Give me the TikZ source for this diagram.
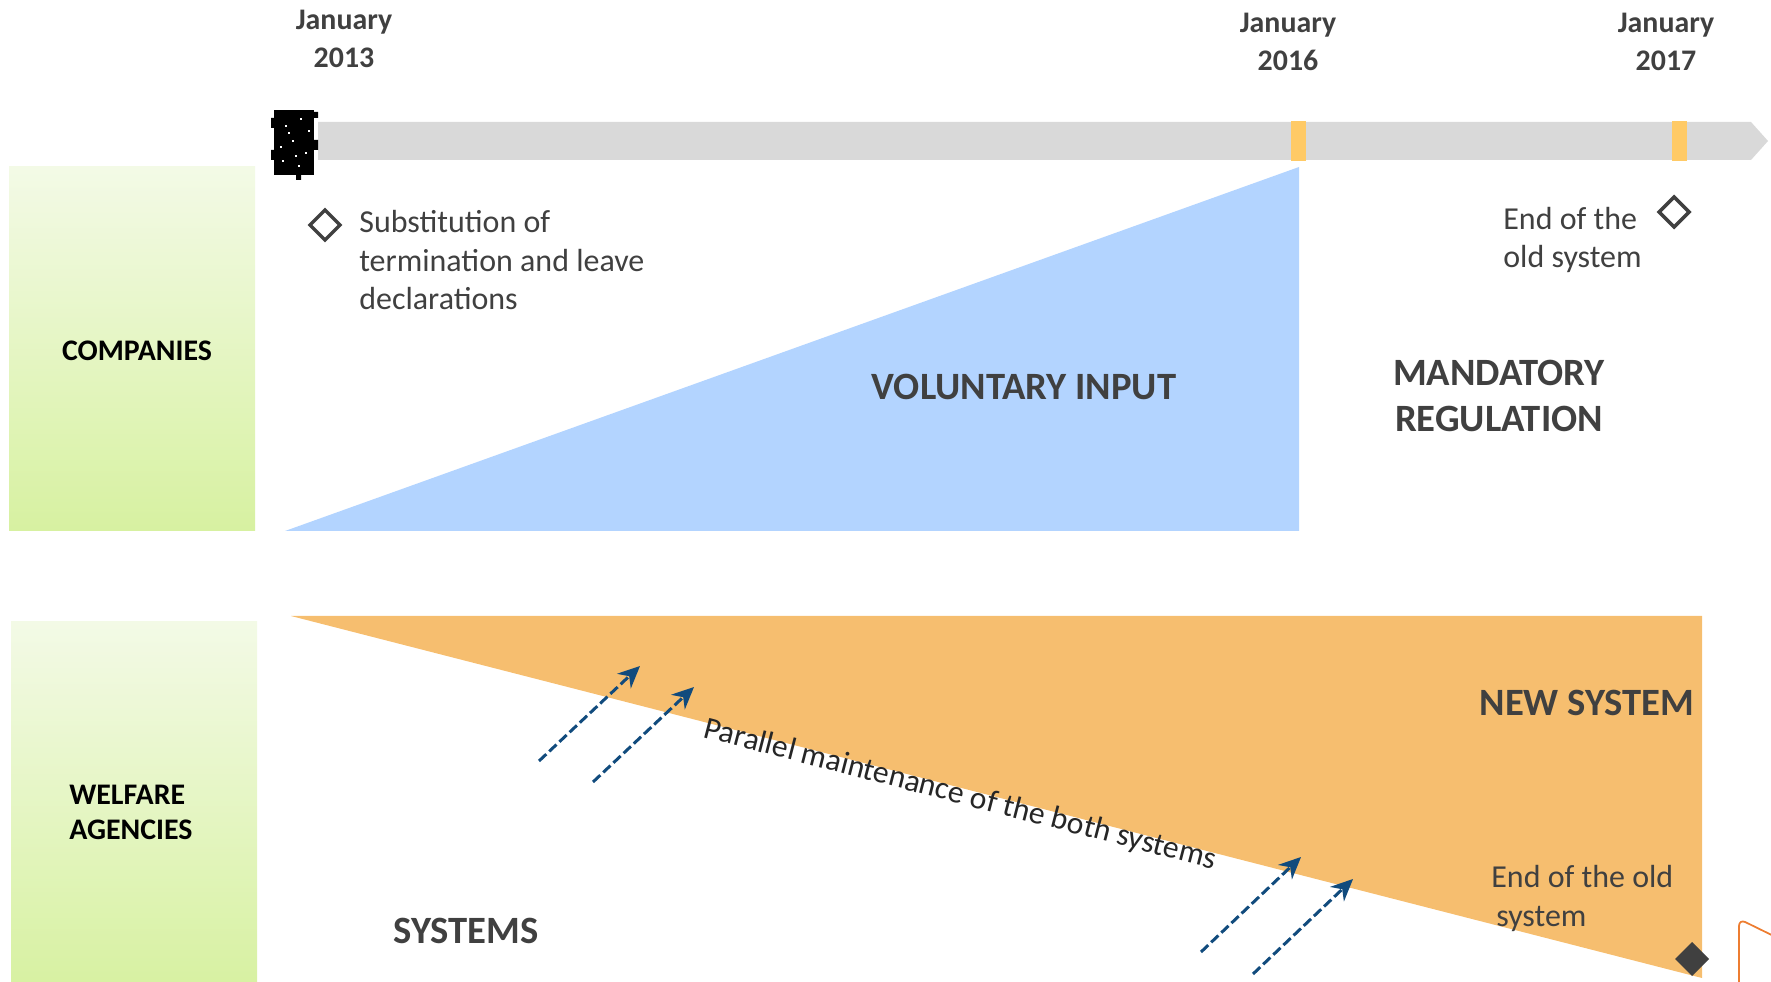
\documentclass[tikz,border=0pt]{standalone}
\usepackage{fontspec}
\setmainfont{Carlito}
\usetikzlibrary{arrows.meta}

\definecolor{textgray}{RGB}{64,64,64}
\definecolor{bargray}{RGB}{217,217,217}
\definecolor{tickyellow}{RGB}{255,202,102}
\definecolor{voluntaryblue}{RGB}{179,212,255}
\definecolor{systemorange}{RGB}{246,190,111}
\definecolor{greentop}{RGB}{243,250,230}
\definecolor{greenbottom}{RGB}{215,241,161}
\definecolor{pushblue}{RGB}{17,75,125}
\definecolor{frameorange}{RGB}{237,125,49}

\begin{document}
\begin{tikzpicture}
		[x=0.02cm, y=-0.02cm,
		actor/.style={shading=axis, top color=greentop, bottom color=greenbottom},
		tickmark/.style={fill=tickyellow},
		year/.style={text=textgray, font=\fontsize{17}{21.2}\selectfont\bfseries, align=center, inner sep=0pt},
		note/.style={text=textgray, font=\fontsize{18.2}{22}\selectfont, align=left, inner sep=0pt},
		phase/.style={text=textgray, font=\fontsize{22}{26.7}\selectfont\bfseries, align=center, inner sep=0pt},
		who/.style={text=black, font=\fontsize{17}{20}\selectfont\bfseries, align=left, inner sep=0pt},
		push/.style={-{Stealth[length=0.44cm,width=0.4cm]}, pushblue, line width=1.7pt, dash pattern=on 0.2cm off 0.08cm},
		milestone/.style={draw=textgray, line width=2pt}]
		
		\useasboundingbox (0,0) rectangle (1771,982);
		\clip (0,0) rectangle (1771,982);
		
		\fill[actor] (9,167) rectangle (255,531);
		\fill[actor] (11,622) rectangle (257,990);
		
		% time line
		\fill[bargray] (318,122) -- (1751,122) -- (1768,141) -- (1751,160) -- (318,160) -- cycle;
		\fill[tickmark] (1291,121) rectangle (1306,161);
		\fill[tickmark] (1672,121) rectangle (1687,161);
		\fill[black] (274,110) rectangle (314,175);
		\fill[black] (271,118) rectangle (276,128) (271,150) rectangle (276,160)
		(312,112) rectangle (318,118) (312,140) rectangle (318,150) (296,174) rectangle (301,180);
		\foreach \px/\py in {285/125,300/118,292/140,305/152,282/160,298/165,288/132,308/130,280/146,295/155}
			\fill[white] (\px,\py) rectangle +(1.6,1.6);
		
		\fill[voluntaryblue] (285,531) -- (1299,167) -- (1299,531) -- cycle;
		\fill[systemorange] (291,616) -- (1702,616) -- (1702,978) -- cycle;
		
		\node[year] (jan13) at (344,39) {January\\2013};
		\node[year] (jan16) at (1288,42) {January\\2016};
		\node[year] (jan17) at (1666,42) {January\\2017};
		
		\draw[milestone] (310,225) -- (325,210) -- (340,225) -- (325,240) -- cycle;
		\node[note, anchor=base west] (substitution) at (359,310) {Substitution of\\termination and leave\\declarations};
		\draw[milestone] (1659,212) -- (1674,197) -- (1689,212) -- (1674,227) -- cycle;
		\node[note, anchor=base west] (endtop) at (1503,268) {End of the\\old system};
		
		\node[who] (companies) at (137,351) {COMPANIES};
		\node[who, anchor=north west] (welfare) at (69,785) {WELFARE\\AGENCIES};
		
		\node[phase] (voluntary) at (1024,387) {VOLUNTARY INPUT};
		\node[phase] (mandatory) at (1499,396) {MANDATORY\\REGULATION};
		\node[phase] (newsystem) at (1587,703) {NEW SYSTEM};
		\node[phase] (systems) at (466,931) {SYSTEMS};
		
		\node[text=black!85, font=\fontsize{18}{20}\selectfont, rotate=-14.5, inner sep=0pt] (parallel) at (960,795)
		{Parallel maintenance of the both systems};
		\node[note, anchor=base west] (endbottom) at (1491,926) {End of the old\\\hspace{0.1cm}system};
		\fill[textgray] (1675,959) -- (1692,942) -- (1709,959) -- (1692,976) -- cycle;
		
		% arrows across the border line
		\coordinate (s1) at (539,761); \coordinate (t1) at (640,666);
		\coordinate (s2) at (593,782); \coordinate (t2) at (694,687);
		\coordinate (s3) at (1201,952); \coordinate (t3) at (1301,857);
		\coordinate (s4) at (1253,974); \coordinate (t4) at (1353,879);
		\foreach \i in {1,...,4}
			\draw[push] (s\i) -- (t\i);
		
		\draw[frameorange, line width=1pt, rounded corners=4pt] (1739,990) -- (1739,919) -- (1790,944);
		
\end{tikzpicture}
\end{document}
